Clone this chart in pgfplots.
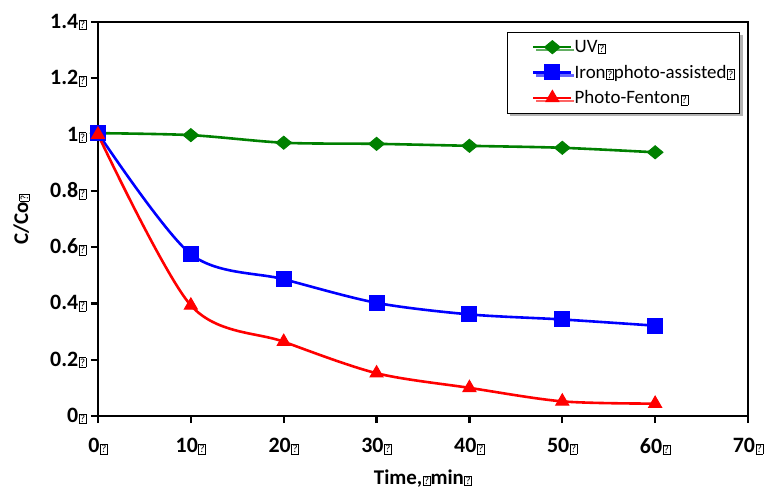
\documentclass[border=0pt]{standalone}
\usepackage{pgfplots}
\pgfplotsset{compat=1.18}
\usepackage{fontspec}
\setmainfont{Carlito}
\usetikzlibrary{shadows}
\newcommand\qb{\kern0.5pt{\setlength\fboxsep{0.7pt}\setlength\fboxrule{0.6pt}\fbox{\fontsize{11}{11}\selectfont\mdseries ?}}}
\definecolor{cgreen}{RGB}{0,128,0}
\begin{document}
\begin{tikzpicture}
\begin{axis}[
  scale only axis,
  width=650bp, height=394bp,
  xmin=0, xmax=70, ymin=0, ymax=1.4,
  xtick={0,10,...,70},
  ytick={0,0.2,...,1.4},
  xticklabels={0\qb,10\qb,20\qb,30\qb,40\qb,50\qb,60\qb,70\qb},
  yticklabels={0\qb,0.2\qb,0.4\qb,0.6\qb,0.8\qb,1\qb,1.2\qb,1.4\qb},
  tick label style={font=\fontsize{22}{24}\selectfont\bfseries},
  xticklabel style={yshift=-12bp},
  yticklabel style={xshift=-1bp},
  tick align=outside,
  xtick pos=bottom, ytick pos=left,
  major tick length=7bp,
  axis line style={line width=2.6bp},
  every tick/.style={line width=2.4bp, black},
  xlabel={Time,\qb min\qb},
  ylabel={C/Co\qb},
  label style={font=\fontsize{21}{23}\selectfont\bfseries},
  xlabel style={yshift=-8bp},
  ylabel style={yshift=14bp},
  legend style={at={(rel axis cs:0.988,0.975)}, anchor=north east,
    draw=black, line width=1bp, fill=white, drop shadow={shadow xshift=3bp, shadow yshift=-3bp, opacity=0.6},
    font=\fontsize{19}{21}\selectfont, row sep=7bp, inner xsep=3bp, inner ysep=6bp},
  legend cell align=left,
  legend image code/.code={%
    \path (0bp,0bp);
    \draw[line width=2.6bp, mark=none] (22bp,0bp) -- (60bp,0bp);
    \draw[only marks, mark repeat=1] plot coordinates {(41bp,0bp)};
  },
  clip=false,
]
\coordinate (sw) at (rel axis cs:0,0);
\coordinate (ne) at (rel axis cs:1,1);
\addplot[cgreen, line width=2.6bp, smooth, tension=0.5, mark=diamond*, mark size=6.5bp, mark options={solid, line width=1bp, xscale=1.6}]
  coordinates {(0,1.005)(10,0.998)(20,0.971)(30,0.967)(40,0.960)(50,0.953)(60,0.937)};
\addlegendentry{UV\qb}
\addplot[blue, line width=2.6bp, smooth, tension=0.5, mark=square*, mark size=7.5bp, mark options={line width=1bp}]
  coordinates {(0,1.005)(10,0.575)(20,0.486)(30,0.402)(40,0.361)(50,0.343)(60,0.321)};
\addlegendentry{Iron\qb photo-assisted\qb}
\addplot[red, line width=2.6bp, smooth, tension=0.5, mark=triangle*, mark size=7.5bp, mark options={line width=1bp}]
  coordinates {(0,1.0)(10,0.393)(20,0.264)(30,0.152)(40,0.100)(50,0.052)(60,0.044)};
\addlegendentry{Photo-Fenton\qb}
\end{axis}
\pgfresetboundingbox
\path ([shift={(-98bp,-76bp)}]sw) rectangle ([shift={(26bp,22bp)}]ne);
\end{tikzpicture}
\end{document}
